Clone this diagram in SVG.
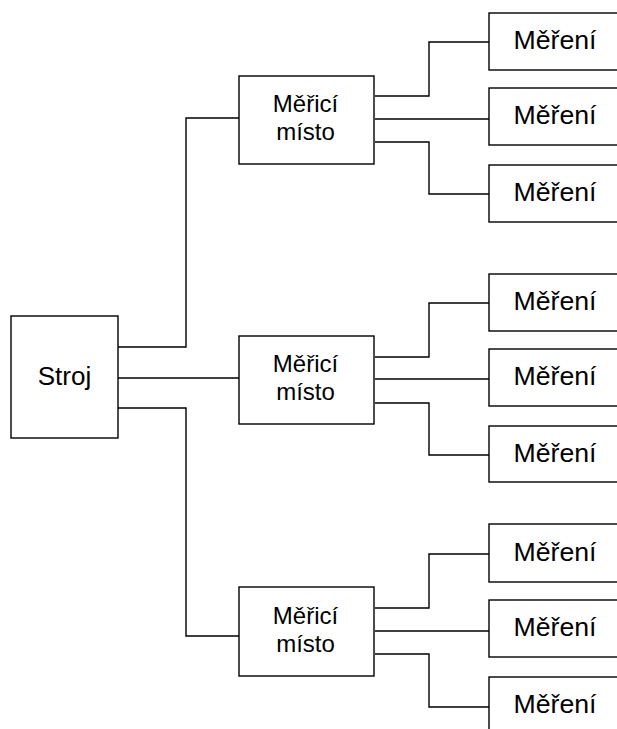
<svg xmlns="http://www.w3.org/2000/svg" width="617" height="729" viewBox="0 0 617 729">
<style>
rect{fill:#fff;stroke:#000;stroke-width:1.4}
text{font-family:"Liberation Sans",Arial,sans-serif;font-size:24px;fill:#000;text-anchor:middle}
.m text{font-size:25px}
.c path{fill:none;stroke:#000;stroke-width:1.4}
</style>
<rect x="0" y="0" width="617" height="729" style="stroke:none"/>
<g class="c" id="connectors">
<path d="M118,347 H186 V118 H239"/>
<path d="M118,378 H239"/>
<path d="M118,408 H186 V636 H239"/>
<path d="M375,96 H429 V42 H489"/>
<path d="M375,119 H489"/>
<path d="M375,142 H429 V194 H489"/>
<path d="M375,357 H429 V303 H489"/>
<path d="M375,379 H489"/>
<path d="M375,403 H429 V455 H489"/>
<path d="M375,608 H429 V554 H489"/>
<path d="M375,631 H489"/>
<path d="M375,654 H429 V707 H489"/>
</g>
<g id="stroj"><rect x="11" y="316" width="107" height="122"/><text x="64.5" y="384.5" style="font-size:26px">Stroj</text></g>
<g id="mm1"><rect x="239" y="76" width="135" height="88"/><text x="305.5" y="112">Měřicí</text><text x="305.5" y="140">místo</text></g>
<g id="mm2"><rect x="239" y="336" width="135" height="88"/><text x="305.5" y="372">Měřicí</text><text x="305.5" y="400">místo</text></g>
<g id="mm3"><rect x="239" y="587" width="135" height="89"/><text x="305.5" y="623.5">Měřicí</text><text x="305.5" y="651.5">místo</text></g>
<g class="m" id="m11"><rect x="489" y="13" width="132" height="57"/><text x="555" y="49" textLength="83" lengthAdjust="spacingAndGlyphs">Měření</text></g>
<g class="m" id="m12"><rect x="489" y="88" width="132" height="57"/><text x="555" y="124" textLength="83" lengthAdjust="spacingAndGlyphs">Měření</text></g>
<g class="m" id="m13"><rect x="489" y="165" width="132" height="57"/><text x="555" y="201" textLength="83" lengthAdjust="spacingAndGlyphs">Měření</text></g>
<g class="m" id="m21"><rect x="489" y="274" width="132" height="57"/><text x="555" y="310" textLength="83" lengthAdjust="spacingAndGlyphs">Měření</text></g>
<g class="m" id="m22"><rect x="489" y="349" width="132" height="57"/><text x="555" y="385" textLength="83" lengthAdjust="spacingAndGlyphs">Měření</text></g>
<g class="m" id="m23"><rect x="489" y="426" width="132" height="56"/><text x="555" y="461.5" textLength="83" lengthAdjust="spacingAndGlyphs">Měření</text></g>
<g class="m" id="m31"><rect x="489" y="524" width="132" height="58"/><text x="555" y="560.5" textLength="83" lengthAdjust="spacingAndGlyphs">Měření</text></g>
<g class="m" id="m32"><rect x="489" y="600" width="132" height="57"/><text x="555" y="636" textLength="83" lengthAdjust="spacingAndGlyphs">Měření</text></g>
<g class="m" id="m33"><rect x="489" y="677" width="132" height="57"/><text x="555" y="713" textLength="83" lengthAdjust="spacingAndGlyphs">Měření</text></g>
</svg>
